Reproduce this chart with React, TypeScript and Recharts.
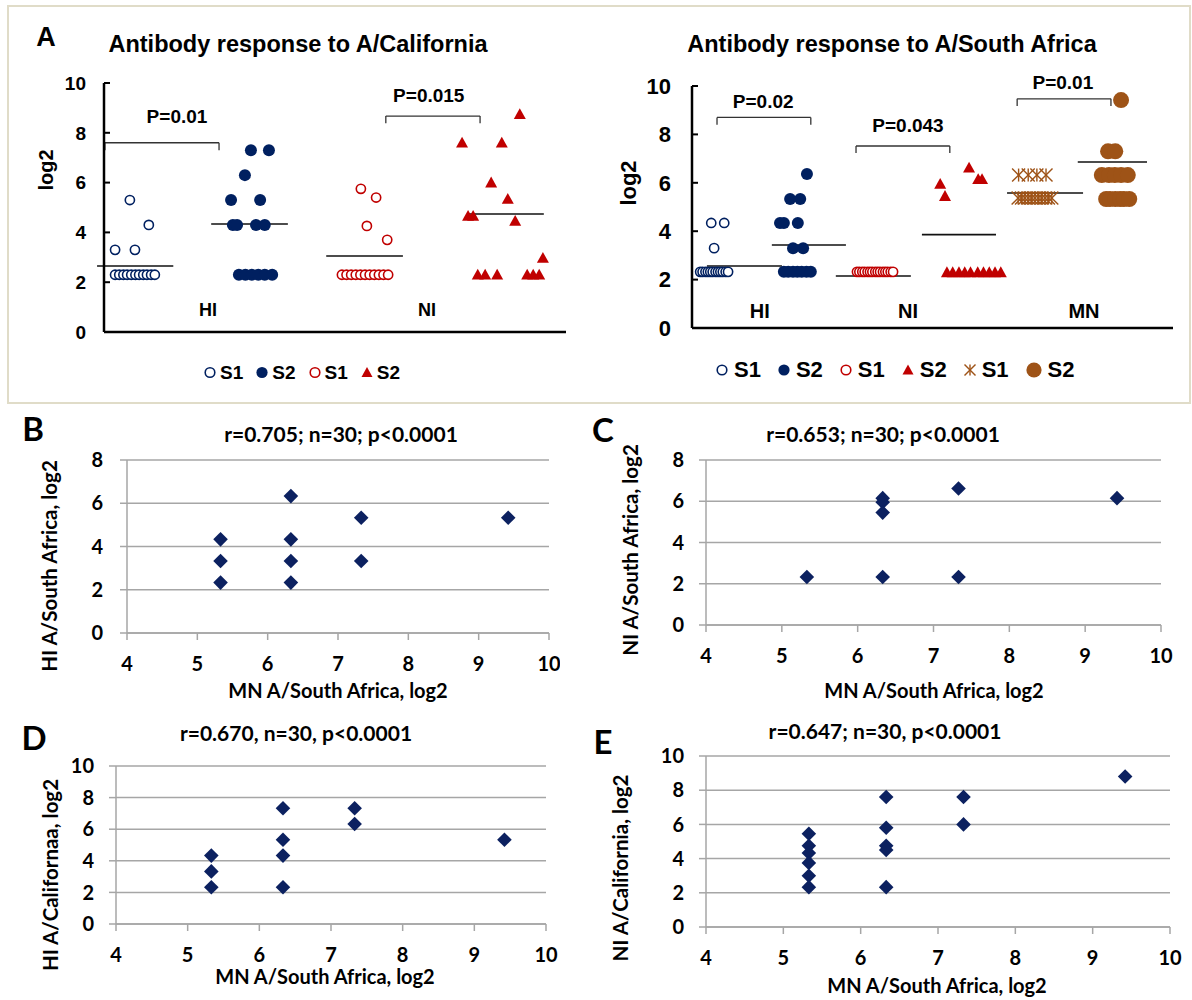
import React from 'react';
import { ScatterChart, Scatter, XAxis, YAxis, CartesianGrid, ReferenceLine, ReferenceDot } from 'recharts';

type P = [number, number];

const NAVY = '#002060';
const RED = '#c00000';
const BROWN = '#9e5317';
const DIA = '#0c2160';
const GRID = '#a6a6a6';
const ARIAL = '"Liberation Sans", Arial, sans-serif';
const CAL = 'Lato, "Open Sans", sans-serif';

// ---------- Panel A (left): antibody response to A/California ----------
// x = position along the category axis (0-100), y = log2 titre
const calHiS1: P[] = [[5.6, 5.3], [9.7, 4.3], [2.4, 3.3], [6.7, 3.3], [2.4, 2.3], [3.3, 2.3], [4.2, 2.3], [5.0, 2.3], [5.9, 2.3], [6.8, 2.3], [7.6, 2.3], [8.5, 2.3], [9.3, 2.3], [10.2, 2.3], [11.0, 2.3]];
const calHiS2: P[] = [[31.8, 7.3], [35.7, 7.3], [30.5, 6.3], [27.5, 5.3], [33.8, 5.3], [27.9, 4.3], [28.8, 4.3], [32.9, 4.3], [34.8, 4.3], [29.2, 2.3], [30.6, 2.3], [32.0, 2.3], [33.4, 2.3], [34.8, 2.3], [36.4, 2.3]];
const calNiS1: P[] = [[55.6, 5.75], [58.9, 5.4], [56.9, 4.26], [61.3, 3.7], [51.5, 2.3], [52.5, 2.3], [53.5, 2.3], [54.5, 2.3], [55.5, 2.3], [56.5, 2.3], [57.5, 2.3], [58.5, 2.3], [59.5, 2.3], [60.5, 2.3], [61.5, 2.3]];
const calNiS2: P[] = [[90.0, 8.75], [77.5, 7.6], [86.1, 7.6], [83.8, 6.0], [87.4, 5.34], [78.8, 4.66], [79.9, 4.66], [89.0, 4.46], [95.0, 2.97], [80.9, 2.3], [82.5, 2.3], [85.1, 2.3], [91.6, 2.3], [92.9, 2.3], [94.2, 2.3]];
const calMeans = [
  { x1: -1.5, x2: 15.0, y: 2.65 },
  { x1: 23.2, x2: 39.8, y: 4.34 },
  { x1: 48.1, x2: 64.7, y: 3.05 },
  { x1: 79.0, x2: 95.2, y: 4.74 },
];
const calBrackets = [
  { x1: 0.2, x2: 24.9, top: 7.6, foot: 7.3, p: 'P=0.01', px: 15.8, py: 8.65 },
  { x1: 61.0, x2: 81.4, top: 8.67, foot: 8.38, p: 'P=0.015', px: 70.3, py: 9.52 },
];
const calGroups = [
  { label: 'HI', x: 22.5, y: 0.92 },
  { label: 'NI', x: 69.9, y: 0.92 },
];

// ---------- Panel A (right): antibody response to A/South Africa ----------
const saHiS1: P[] = [[4.0, 4.34], [6.7, 4.34], [4.6, 3.3], [1.7, 2.32], [2.2, 2.32], [2.8, 2.32], [3.3, 2.32], [3.8, 2.32], [4.3, 2.32], [4.9, 2.32], [5.4, 2.32], [5.9, 2.32], [6.4, 2.32], [7.0, 2.32], [7.5, 2.32]];
const saHiS2: P[] = [[23.9, 6.36], [20.4, 5.33], [22.5, 5.33], [18.3, 4.34], [19.1, 4.34], [22.0, 4.34], [21.0, 3.3], [23.1, 3.3], [19.1, 2.32], [20.0, 2.32], [21.0, 2.32], [21.9, 2.32], [22.8, 2.32], [23.8, 2.32], [24.7, 2.32]];
const saNiS1: P[] = [[34.3, 2.32], [34.8, 2.32], [35.4, 2.32], [35.9, 2.32], [36.5, 2.32], [37.0, 2.32], [37.5, 2.32], [38.1, 2.32], [38.6, 2.32], [39.1, 2.32], [39.7, 2.32], [40.2, 2.32], [40.7, 2.32], [41.3, 2.32], [41.8, 2.32]];
const saNiS2: P[] = [[51.6, 5.95], [52.6, 5.45], [57.6, 6.62], [59.5, 6.15], [60.3, 6.15], [53.0, 2.3], [54.2, 2.3], [55.5, 2.3], [56.7, 2.3], [57.9, 2.3], [59.4, 2.3], [60.6, 2.3], [61.8, 2.3], [63.0, 2.3], [64.2, 2.3]];
const saMnS1: P[] = [[67.9, 6.32], [69.9, 6.32], [71.7, 6.32], [73.6, 6.32], [67.8, 5.37], [68.5, 5.37], [69.2, 5.37], [69.9, 5.37], [70.6, 5.37], [71.3, 5.37], [72.0, 5.37], [72.7, 5.37], [73.4, 5.37], [74.1, 5.37], [74.8, 5.37]];
const saMnS2: P[] = [[89.2, 9.42], [86.5, 7.3], [88.0, 7.3], [85.2, 6.32], [86.7, 6.32], [87.9, 6.32], [89.2, 6.32], [90.6, 6.32], [86.1, 5.33], [86.9, 5.33], [88.0, 5.33], [89.0, 5.33], [89.8, 5.33], [90.9, 5.33]];
const saMeans = [
  { x1: 3.1, x2: 18.7, y: 2.56 },
  { x1: 16.6, x2: 32.0, y: 3.43 },
  { x1: 29.9, x2: 45.5, y: 2.15 },
  { x1: 47.8, x2: 63.2, y: 3.86 },
  { x1: 65.5, x2: 81.3, y: 5.58 },
  { x1: 80.2, x2: 94.6, y: 6.86 },
];
const saBrackets = [
  { x1: 5.2, x2: 24.7, top: 8.7, foot: 8.4, p: 'P=0.02', px: 14.8, py: 9.36 },
  { x1: 34.1, x2: 53.6, top: 7.52, foot: 7.23, p: 'P=0.043', px: 44.9, py: 8.39 },
  { x1: 67.6, x2: 87.1, top: 9.47, foot: 9.17, p: 'P=0.01', px: 77.1, py: 10.14 },
];
const saGroups = [
  { label: 'HI', x: 14.1, y: 0.7 },
  { label: 'NI', x: 44.9, y: 0.7 },
  { label: 'MN', x: 81.5, y: 0.7 },
];

// ---------- Panels B-E: correlations (x = MN A/South Africa, log2) ----------
const corrB: P[] = [[5.33, 4.33], [5.33, 3.33], [5.33, 2.33], [6.33, 6.33], [6.33, 4.33], [6.33, 3.33], [6.33, 2.33], [7.33, 5.33], [7.33, 3.33], [9.42, 5.33]];
const corrC: P[] = [[5.33, 2.33], [6.33, 6.15], [6.33, 5.95], [6.33, 5.45], [6.33, 2.33], [7.33, 6.62], [7.33, 2.33], [9.42, 6.15]];
const corrD: P[] = [[5.33, 4.33], [5.33, 3.33], [5.33, 2.33], [6.33, 7.33], [6.33, 5.33], [6.33, 4.33], [6.33, 2.33], [7.33, 7.33], [7.33, 6.33], [9.42, 5.33]];
const corrE: P[] = [[5.33, 5.45], [5.33, 4.75], [5.33, 4.33], [5.33, 3.75], [5.33, 3.0], [5.33, 2.33], [6.33, 7.6], [6.33, 5.8], [6.33, 4.75], [6.33, 4.5], [6.33, 2.33], [7.33, 7.6], [7.33, 6.0], [9.42, 8.8]];
const xTicksCorr = [4, 5, 6, 7, 8, 9, 10];
const yTicks8 = [0, 2, 4, 6, 8];
const yTicks10 = [0, 2, 4, 6, 8, 10];
const dotTicks = [0, 2, 4, 6, 8, 10];

const toPts = (a: P[]) => a.map(([x, y]) => ({ x, y }));

// ---------- marker shapes ----------
const openCircle = (c: string, r: number) => (p: any) => <circle cx={p.cx} cy={p.cy} r={r} fill="#fff" stroke={c} strokeWidth={1.6} />;
const filledCircle = (c: string, r: number) => (p: any) => <circle cx={p.cx} cy={p.cy} r={r} fill={c} />;
const triangle = (c: string, s: number) => (p: any) => (
  <path d={`M${p.cx},${p.cy - s}L${p.cx + s},${p.cy + s * 0.8}L${p.cx - s},${p.cy + s * 0.8}Z`} fill={c} />
);
const asterisk = (c: string, s: number) => (p: any) => (
  <g stroke={c} strokeWidth={1.4}>
    <line x1={p.cx - s} y1={p.cy - s} x2={p.cx + s} y2={p.cy + s} />
    <line x1={p.cx - s} y1={p.cy + s} x2={p.cx + s} y2={p.cy - s} />
    <line x1={p.cx} y1={p.cy - s} x2={p.cx} y2={p.cy + s} />
  </g>
);
const diamond = (c: string, s: number) => (p: any) => (
  <path d={`M${p.cx},${p.cy - s}L${p.cx + s},${p.cy}L${p.cx},${p.cy + s}L${p.cx - s},${p.cy}Z`} fill={c} />
);

const textShape = (label: string, size: number) => (p: any) => (
  <text x={p.cx} y={p.cy} dy="0.36em" textAnchor="middle" fontFamily={ARIAL} fontWeight={700} fontSize={size} fill="#000">{label}</text>
);

type Mean = { x1: number; x2: number; y: number };
type Bracket = { x1: number; x2: number; top: number; foot: number; p: string; px: number; py: number };
type Group = { label: string; x: number; y: number };

function DotPlot(props: {
  left: number; top: number; width: number; height: number; margin: any;
  tickFont: number; tickMargin: number; groupFont: number;
  series: { data: P[]; shape: any }[]; means: Mean[]; brackets: Bracket[]; groups: Group[];
}) {
  const { left, top, width, height, margin, tickFont, tickMargin, groupFont, series, means, brackets, groups } = props;
  return (
    <div style={{ position: 'absolute', left, top }}>
      <ScatterChart width={width} height={height} margin={margin}>
        <XAxis type="number" dataKey="x" domain={[0, 100]} tick={false} tickLine={false} axisLine={{ stroke: '#000', strokeWidth: 2.5 }} height={1} />
        <YAxis type="number" dataKey="y" domain={[0, 10]} ticks={dotTicks} interval={0} width={60}
          tickSize={-6} tickMargin={tickMargin}
          tickLine={{ stroke: '#000', strokeWidth: 2 }} axisLine={{ stroke: '#000', strokeWidth: 2.5 }}
          tick={{ fill: '#000', fontSize: tickFont, fontWeight: 700, fontFamily: ARIAL }} />
        {means.map((m, i) => (
          <ReferenceLine key={'m' + i} segment={[{ x: m.x1, y: m.y }, { x: m.x2, y: m.y }]} stroke="#111" strokeWidth={1.6} ifOverflow="visible" />
        ))}
        {brackets.map((b, i) => (
          <ReferenceLine key={'bt' + i} segment={[{ x: b.x1, y: b.top }, { x: b.x2, y: b.top }]} stroke="#333" strokeWidth={1.3} ifOverflow="visible" />
        ))}
        {brackets.map((b, i) => (
          <ReferenceLine key={'bl' + i} segment={[{ x: b.x1, y: b.top }, { x: b.x1, y: b.foot }]} stroke="#333" strokeWidth={1.3} ifOverflow="visible" />
        ))}
        {brackets.map((b, i) => (
          <ReferenceLine key={'br' + i} segment={[{ x: b.x2, y: b.top }, { x: b.x2, y: b.foot }]} stroke="#333" strokeWidth={1.3} ifOverflow="visible" />
        ))}
        {series.map((s, i) => (
          <Scatter key={'s' + i} data={toPts(s.data)} shape={s.shape} isAnimationActive={false} />
        ))}
        {brackets.map((b, i) => (
          <ReferenceDot key={'pt' + i} x={b.px} y={b.py} r={0} ifOverflow="visible" shape={textShape(b.p, 19)} />
        ))}
        {groups.map((g, i) => (
          <ReferenceDot key={'g' + i} x={g.x} y={g.y} r={0} ifOverflow="visible" shape={textShape(g.label, groupFont)} />
        ))}
      </ScatterChart>
    </div>
  );
}

function CorrPlot(props: {
  left: number; top: number; width: number; height: number; margin: any;
  yMax: number; yTicks: number[]; data: P[]; yTickMargin: number; xTickMargin: number;
}) {
  const { left, top, width, height, margin, yMax, yTicks, data, yTickMargin, xTickMargin } = props;
  const tickStyle = { fill: '#000', fontSize: 20, fontWeight: 700, fontFamily: CAL };
  return (
    <div style={{ position: 'absolute', left, top }}>
      <ScatterChart width={width} height={height} margin={margin}>
        <CartesianGrid vertical={false} stroke={GRID} strokeWidth={1.5} />
        <XAxis type="number" dataKey="x" domain={[4, 10]} ticks={xTicksCorr} interval={0} height={40}
          tickSize={7} tickMargin={xTickMargin}
          axisLine={{ stroke: GRID, strokeWidth: 1.5 }} tickLine={{ stroke: GRID, strokeWidth: 1.5 }} tick={tickStyle} />
        <YAxis type="number" dataKey="y" domain={[0, yMax]} ticks={yTicks} interval={0} width={60}
          tickSize={7} tickMargin={yTickMargin}
          axisLine={{ stroke: GRID, strokeWidth: 1.5 }} tickLine={{ stroke: GRID, strokeWidth: 1.5 }} tick={tickStyle} />
        <Scatter data={toPts(data)} shape={diamond(DIA, 7.3)} isAnimationActive={false} />
      </ScatterChart>
    </div>
  );
}

function T(props: { x: number; y: number; size: number; family: string; rot?: number; children: React.ReactNode }) {
  const { x, y, size, family, rot, children } = props;
  return (
    <div style={{
      position: 'absolute', left: x, top: y,
      transform: `translate(-50%, -50%)${rot ? ` rotate(${rot}deg)` : ''}`,
      fontSize: size, fontFamily: family, fontWeight: 700, whiteSpace: 'nowrap', lineHeight: 1, color: '#000',
    }}>{children}</div>
  );
}

type LegItem = { kind: string; color: string; label: string };
const calLegend: LegItem[] = [
  { kind: 'open', color: NAVY, label: 'S1' },
  { kind: 'filled', color: NAVY, label: 'S2' },
  { kind: 'open', color: RED, label: 'S1' },
  { kind: 'tri', color: RED, label: 'S2' },
];
const saLegend: LegItem[] = [
  { kind: 'open', color: NAVY, label: 'S1' },
  { kind: 'filled', color: NAVY, label: 'S2' },
  { kind: 'open', color: RED, label: 'S1' },
  { kind: 'tri', color: RED, label: 'S2' },
  { kind: 'star', color: BROWN, label: 'S1' },
  { kind: 'big', color: BROWN, label: 'S2' },
];

function LegendIcon({ it }: { it: LegItem }) {
  const w = it.kind === 'big' ? 16 : 12;
  const c = { cx: w / 2, cy: 8 };
  let el: any = null;
  if (it.kind === 'open') el = openCircle(it.color, 4.8)(c);
  else if (it.kind === 'filled') el = filledCircle(it.color, 5.6)(c);
  else if (it.kind === 'tri') el = triangle(it.color, 5.5)(c);
  else if (it.kind === 'star') el = asterisk(it.color, 5.5)(c);
  else el = filledCircle(it.color, 7.6)(c);
  return <svg width={w} height={16} style={{ display: 'block' }}>{el}</svg>;
}

function Legend(props: { items: LegItem[]; left: number; top: number; size: number; gapIcon: number; gapItem: number }) {
  const { items, left, top, size, gapIcon, gapItem } = props;
  return (
    <div style={{ position: 'absolute', left, top, transform: 'translateY(-50%)', display: 'flex', alignItems: 'center', fontFamily: ARIAL, fontWeight: 700, fontSize: size, lineHeight: 1, color: '#000' }}>
      {items.map((it, i) => (
        <div key={i} style={{ display: 'flex', alignItems: 'center', marginRight: gapItem }}>
          <LegendIcon it={it} />
          <span style={{ marginLeft: gapIcon }}>{it.label}</span>
        </div>
      ))}
    </div>
  );
}

export default function App() {
  return (
    <div style={{ position: 'absolute', left: 0, top: 0, width: 1192, height: 1000, background: '#fff', overflow: 'hidden' }}>
      <div style={{ position: 'absolute', left: 7, top: 5, width: 1180, height: 395, border: '2px solid #e0dcc8' }} />

      <DotPlot left={0} top={0} width={580} height={360} margin={{ top: 83, right: 14, bottom: 27, left: 44 }}
        tickFont={19} tickMargin={24} groupFont={18}
        series={[
          { data: calHiS1, shape: openCircle(NAVY, 4.6) },
          { data: calHiS2, shape: filledCircle(NAVY, 6) },
          { data: calNiS1, shape: openCircle(RED, 4.6) },
          { data: calNiS2, shape: triangle(RED, 6) },
        ]}
        means={calMeans} brackets={calBrackets} groups={calGroups} />

      <DotPlot left={600} top={0} width={590} height={360} margin={{ top: 86, right: 17, bottom: 31, left: 32 }}
        tickFont={22} tickMargin={27} groupFont={20}
        series={[
          { data: saHiS1, shape: openCircle(NAVY, 4.6) },
          { data: saHiS2, shape: filledCircle(NAVY, 6) },
          { data: saNiS1, shape: openCircle(RED, 4.6) },
          { data: saNiS2, shape: triangle(RED, 6) },
          { data: saMnS1, shape: asterisk(BROWN, 6.5) },
          { data: saMnS2, shape: filledCircle(BROWN, 8) },
        ]}
        means={saMeans} brackets={saBrackets} groups={saGroups} />

      <T x={46} y={37} size={27} family={ARIAL}>A</T>
      <T x={298} y={45} size={23.5} family={ARIAL}>Antibody response to A/California</T>
      <T x={892} y={45} size={23.5} family={ARIAL}>Antibody response to A/South Africa</T>
      <T x={46} y={170} size={20} family={ARIAL} rot={-90}>log2</T>
      <T x={629} y={183} size={22} family={ARIAL} rot={-90}>log2</T>
      <Legend items={calLegend} left={204} top={372} size={19} gapIcon={4} gapItem={13} />
      <Legend items={saLegend} left={716} top={370} size={22} gapIcon={6} gapItem={17} />

      <CorrPlot left={0} top={400} width={560} height={280} margin={{ top: 60, right: 11, bottom: 7, left: 67 }}
        yMax={8} yTicks={yTicks8} data={corrB} yTickMargin={17} xTickMargin={17} />
      <CorrPlot left={600} top={400} width={590} height={280} margin={{ top: 60, right: 29, bottom: 15, left: 46 }}
        yMax={8} yTicks={yTicks8} data={corrC} yTickMargin={15} xTickMargin={17} />
      <CorrPlot left={0} top={700} width={560} height={280} margin={{ top: 66, right: 14, bottom: 16, left: 56 }}
        yMax={10} yTicks={yTicks10} data={corrD} yTickMargin={15} xTickMargin={17} />
      <CorrPlot left={600} top={700} width={592} height={290} margin={{ top: 56, right: 22, bottom: 23, left: 46 }}
        yMax={10} yTicks={yTicks10} data={corrE} yTickMargin={15} xTickMargin={17} />

      <T x={33} y={428} size={33} family={CAL}>B</T>
      <T x={603} y={429} size={33} family={CAL}>C</T>
      <T x={34} y={737} size={33} family={CAL}>D</T>
      <T x={603} y={741} size={33} family={CAL}>E</T>

      <T x={341} y={433} size={21} family={CAL}>r=0.705; n=30; p&lt;0.0001</T>
      <T x={883} y={433} size={21} family={CAL}>r=0.653; n=30; p&lt;0.0001</T>
      <T x={296} y={732} size={21} family={CAL}>r=0.670, n=30, p&lt;0.0001</T>
      <T x={885} y={730} size={21} family={CAL}>r=0.647; n=30, p&lt;0.0001</T>

      <T x={49} y={566} size={20.5} family={CAL} rot={-90}>HI A/South Africa, log2</T>
      <T x={630} y={550} size={20.5} family={CAL} rot={-90}>NI A/South Africa, log2</T>
      <T x={50} y={875} size={20.5} family={CAL} rot={-90}>HI A/Californaa, log2</T>
      <T x={620} y={868} size={20.5} family={CAL} rot={-90}>NI A/California, log2</T>

      <T x={338} y={690} size={20} family={CAL}>MN A/South Africa, log2</T>
      <T x={934} y={690} size={20} family={CAL}>MN A/South Africa, log2</T>
      <T x={325} y={976} size={20} family={CAL}>MN A/South Africa, log2</T>
      <T x={937} y={985} size={20} family={CAL}>MN A/South Africa, log2</T>
    </div>
  );
}
